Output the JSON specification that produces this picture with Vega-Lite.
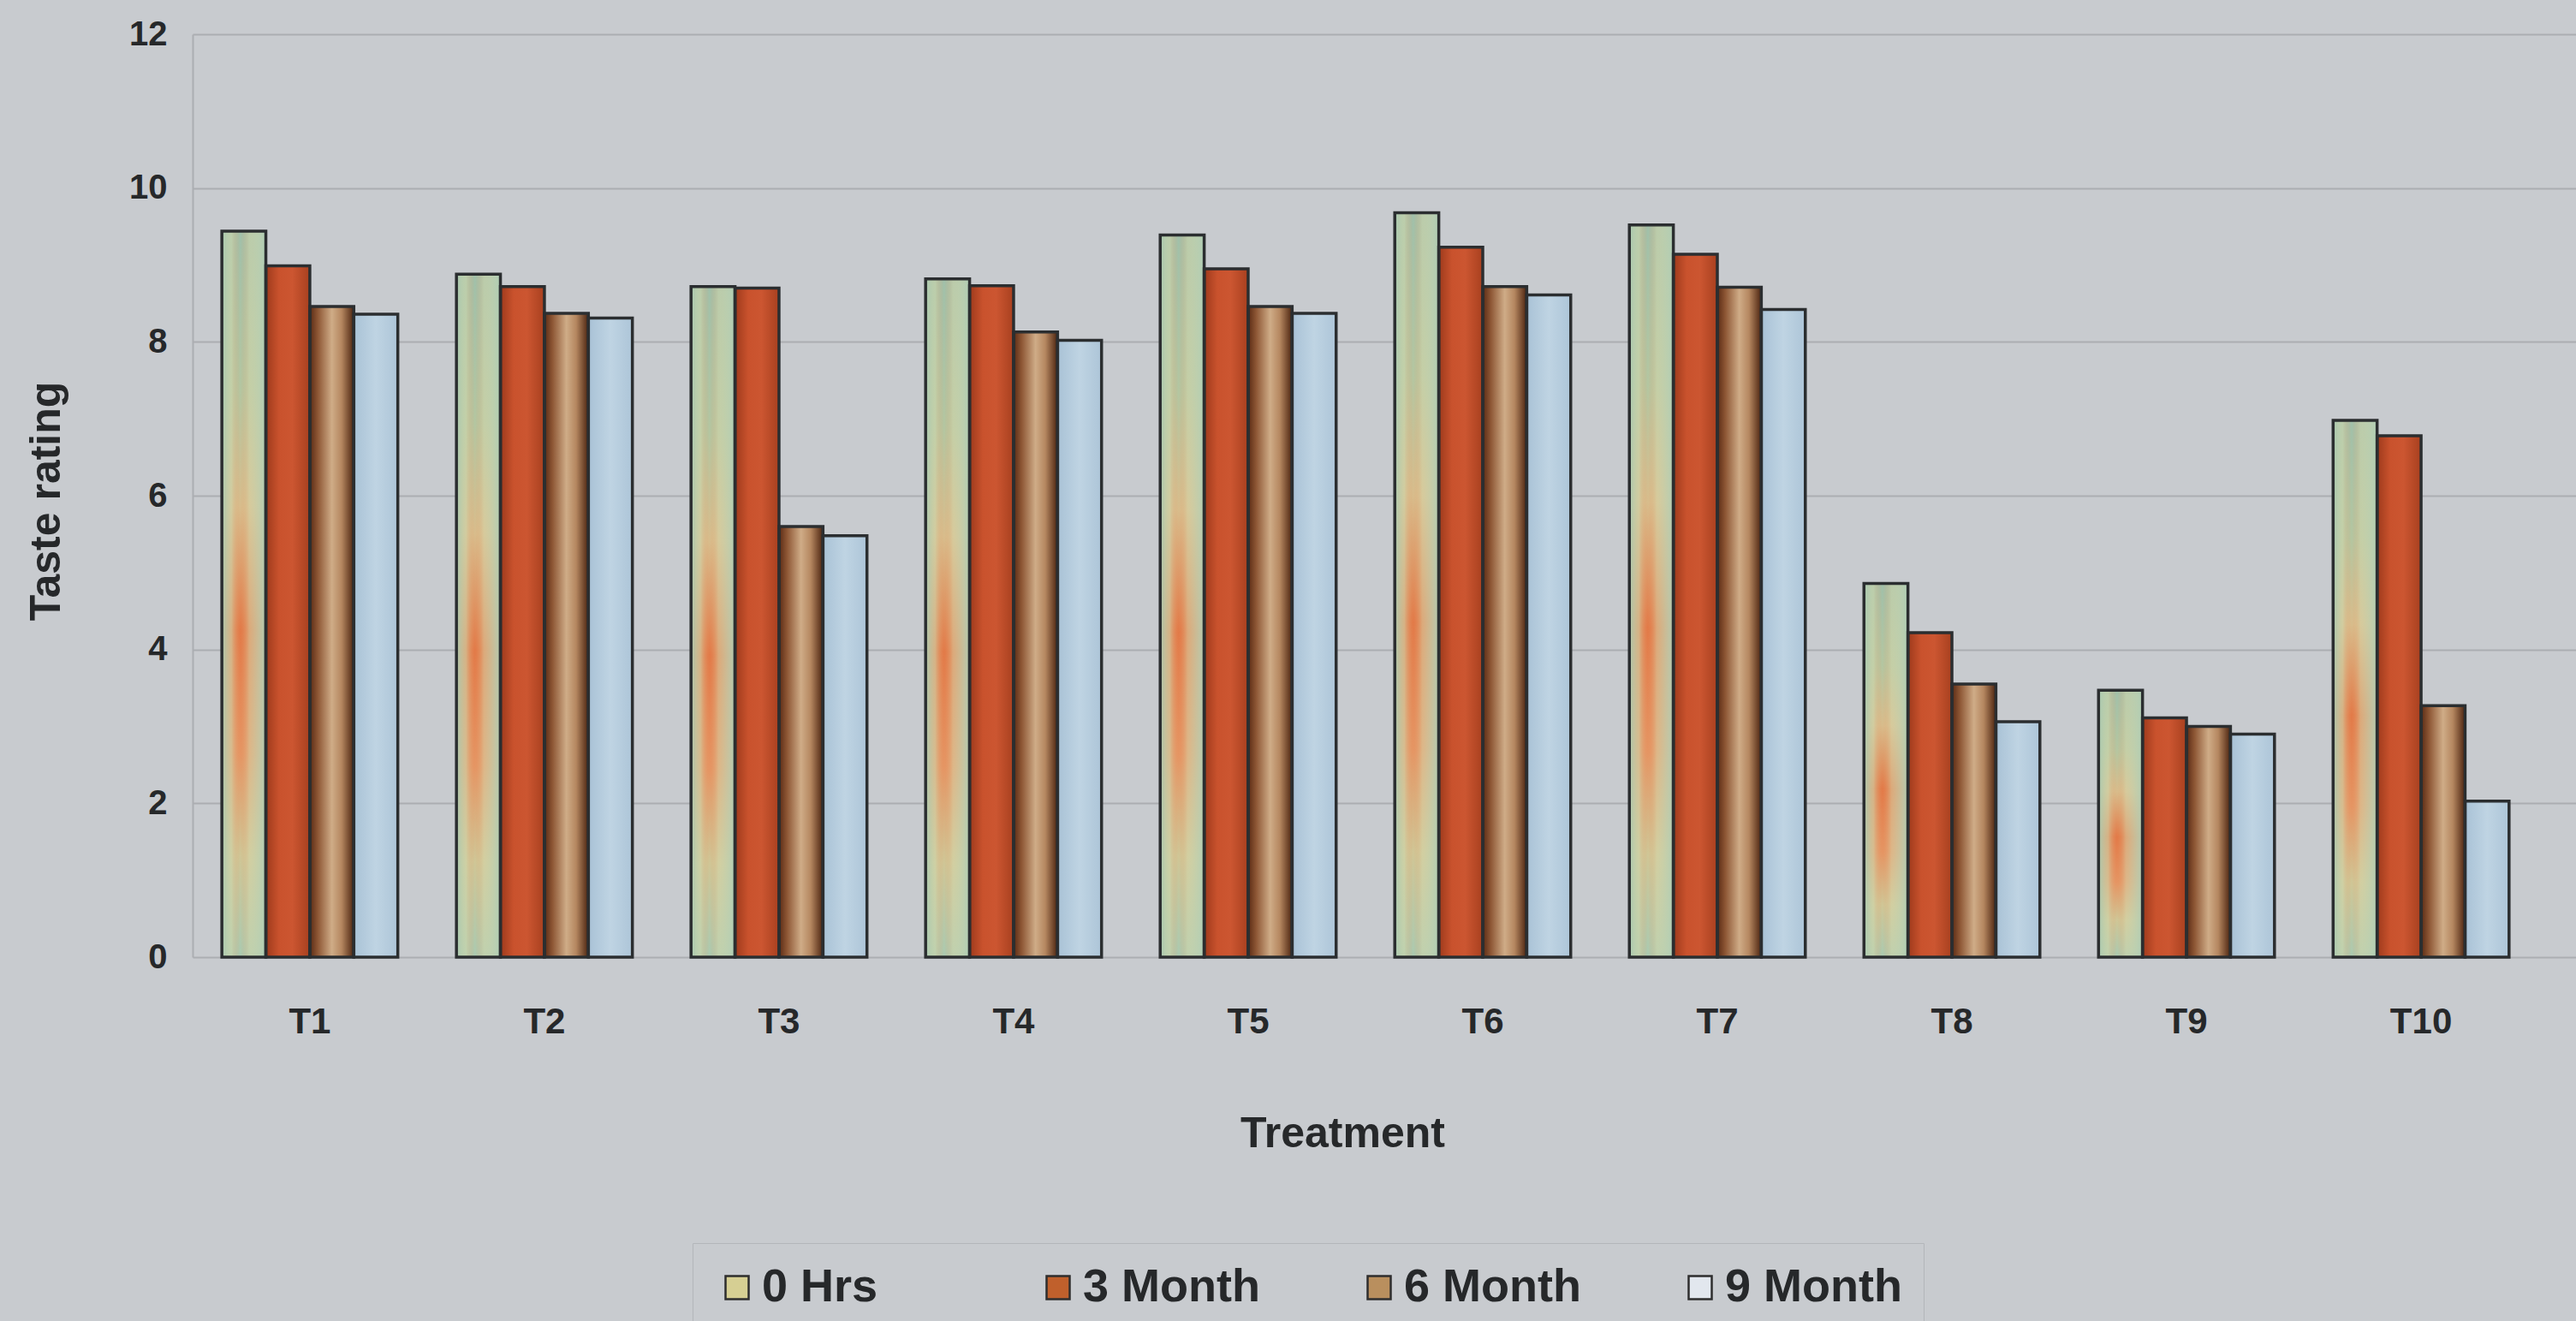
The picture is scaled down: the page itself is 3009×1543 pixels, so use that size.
{
  "$schema": "https://vega.github.io/schema/vega-lite/v6.json",
  "autosize": {"type": "none"},
  "padding": {"left": 225, "top": 40, "right": 0, "bottom": 425},
  "width": 2784,
  "height": 1078,
  "background": "#c8cbcf",
  "config": {
    "view": {"stroke": null},
    "font": "Liberation Sans",
    "axis": {"labelFont": "Liberation Sans", "titleFont": "Liberation Sans", "labelColor": "#26282a", "titleColor": "#26282a", "labelFontWeight": "bold", "titleFontWeight": "bold"},
    "legend": {"labelFont": "Liberation Sans", "labelColor": "#26282a", "labelFontWeight": "bold"}
  },
  "data": {
    "values": [
      {"treatment": "T1", "period": "0 Hrs", "rating": 9.44},
      {"treatment": "T1", "period": "3 Month", "rating": 8.99},
      {"treatment": "T1", "period": "6 Month", "rating": 8.46},
      {"treatment": "T1", "period": "9 Month", "rating": 8.36},
      {"treatment": "T2", "period": "0 Hrs", "rating": 8.88},
      {"treatment": "T2", "period": "3 Month", "rating": 8.72},
      {"treatment": "T2", "period": "6 Month", "rating": 8.37},
      {"treatment": "T2", "period": "9 Month", "rating": 8.31},
      {"treatment": "T3", "period": "0 Hrs", "rating": 8.72},
      {"treatment": "T3", "period": "3 Month", "rating": 8.7},
      {"treatment": "T3", "period": "6 Month", "rating": 5.6},
      {"treatment": "T3", "period": "9 Month", "rating": 5.48},
      {"treatment": "T4", "period": "0 Hrs", "rating": 8.82},
      {"treatment": "T4", "period": "3 Month", "rating": 8.73},
      {"treatment": "T4", "period": "6 Month", "rating": 8.13},
      {"treatment": "T4", "period": "9 Month", "rating": 8.02},
      {"treatment": "T5", "period": "0 Hrs", "rating": 9.39},
      {"treatment": "T5", "period": "3 Month", "rating": 8.95},
      {"treatment": "T5", "period": "6 Month", "rating": 8.46},
      {"treatment": "T5", "period": "9 Month", "rating": 8.37},
      {"treatment": "T6", "period": "0 Hrs", "rating": 9.68},
      {"treatment": "T6", "period": "3 Month", "rating": 9.23},
      {"treatment": "T6", "period": "6 Month", "rating": 8.72},
      {"treatment": "T6", "period": "9 Month", "rating": 8.61},
      {"treatment": "T7", "period": "0 Hrs", "rating": 9.52},
      {"treatment": "T7", "period": "3 Month", "rating": 9.14},
      {"treatment": "T7", "period": "6 Month", "rating": 8.71},
      {"treatment": "T7", "period": "9 Month", "rating": 8.42},
      {"treatment": "T8", "period": "0 Hrs", "rating": 4.86},
      {"treatment": "T8", "period": "3 Month", "rating": 4.22},
      {"treatment": "T8", "period": "6 Month", "rating": 3.55},
      {"treatment": "T8", "period": "9 Month", "rating": 3.06},
      {"treatment": "T9", "period": "0 Hrs", "rating": 3.47},
      {"treatment": "T9", "period": "3 Month", "rating": 3.11},
      {"treatment": "T9", "period": "6 Month", "rating": 3.0},
      {"treatment": "T9", "period": "9 Month", "rating": 2.9},
      {"treatment": "T10", "period": "0 Hrs", "rating": 6.98},
      {"treatment": "T10", "period": "3 Month", "rating": 6.78},
      {"treatment": "T10", "period": "6 Month", "rating": 3.27},
      {"treatment": "T10", "period": "9 Month", "rating": 2.03}
    ]
  },
  "encoding": {
    "x": {
      "field": "treatment",
      "type": "nominal",
      "sort": ["T1", "T2", "T3", "T4", "T5", "T6", "T7", "T8", "T9", "T10"],
      "scale": {"paddingInner": 0.25, "paddingOuter": 0.205, "align": 0.304},
      "axis": {
        "title": "Treatment",
        "labelAngle": 0,
        "labelFontSize": 42,
        "labelPadding": 55,
        "ticks": false,
        "domain": false,
        "grid": false,
        "titleFontSize": 50,
        "titleX": 1343,
        "titleY": 206,
        "titleBaseline": "middle",
        "titleAlign": "center"
      }
    },
    "xOffset": {
      "field": "period",
      "type": "nominal",
      "sort": ["0 Hrs", "3 Month", "6 Month", "9 Month"],
      "scale": {"paddingInner": 0, "paddingOuter": 0}
    },
    "y": {
      "field": "rating",
      "type": "quantitative",
      "scale": {"domain": [0, 12], "nice": false},
      "axis": {
        "title": "Taste rating",
        "values": [0, 2, 4, 6, 8, 10, 12],
        "labelFontSize": 40,
        "labelPadding": 30,
        "ticks": false,
        "domain": true,
        "domainColor": "#abaeb2",
        "domainWidth": 2,
        "gridColor": "#abaeb2",
        "gridWidth": 2,
        "titleFontSize": 50,
        "titleAngle": 270,
        "titleX": -171,
        "titleY": 545,
        "titleAlign": "center",
        "titleBaseline": "middle"
      }
    }
  },
  "layer": [
    {
      "mark": {"type": "bar", "strokeWidth": 0},
      "encoding": {
        "color": {
          "field": "period",
          "type": "nominal",
          "scale": {
            "domain": ["0 Hrs", "3 Month", "6 Month", "9 Month"],
            "range": ["#d6cf93", "#c0602c", "#b98f5e", "#e2e7ee"]
          },
          "legend": {
            "title": null,
            "orient": "none",
            "direction": "horizontal",
            "columns": 4,
            "gridAlign": "all",
            "columnPadding": 112,
            "legendX": 584,
            "legendY": 1412,
            "padding": 25,
            "strokeColor": "#b3b6ba",
            "labelFontSize": 54,
            "labelLimit": 600,
            "labelOffset": 2,
            "symbolType": "square",
            "symbolSize": 729,
            "symbolStrokeColor": "#2e2e2e",
            "symbolStrokeWidth": 2.5,
            "encode": {
              "symbols": {"update": {"stroke": {"value": "#2e2e2e"}, "strokeWidth": {"value": 2.5}}}
            }
          }
        }
      }
    },
    {
      "transform": [{"filter": "datum.period === '0 Hrs'"}],
      "mark": {
        "type": "bar",
        "strokeWidth": 0,
        "fill": {
          "gradient": "linear", "x1": 0, "y1": 0, "x2": 0, "y2": 1,
          "stops": [
            {"offset": 0, "color": "#9fc1ab"},
            {"offset": 0.22, "color": "#b3c7a2"},
            {"offset": 0.38, "color": "#d8bd8c"},
            {"offset": 0.55, "color": "#e27a48"},
            {"offset": 0.72, "color": "#e59563"},
            {"offset": 0.86, "color": "#cfc797"},
            {"offset": 1, "color": "#a9cbb2"}
          ]
        }
      }
    },
    {
      "transform": [{"filter": "datum.period === '0 Hrs'"}],
      "mark": {
        "type": "bar",
        "strokeWidth": 0,
        "fill": {
          "gradient": "linear", "x1": 0, "y1": 0, "x2": 1, "y2": 0,
          "stops": [
            {"offset": 0, "color": "rgba(168,200,176,0.95)"},
            {"offset": 0.22, "color": "rgba(206,214,172,0.6)"},
            {"offset": 0.42, "color": "rgba(230,150,100,0)"},
            {"offset": 0.62, "color": "rgba(214,214,170,0.5)"},
            {"offset": 1, "color": "rgba(176,206,182,0.95)"}
          ]
        }
      }
    },
    {
      "transform": [{"filter": "datum.period === '3 Month'"}],
      "mark": {
        "type": "bar",
        "strokeWidth": 0,
        "fill": {
          "gradient": "linear", "x1": 0, "y1": 0, "x2": 1, "y2": 0,
          "stops": [
            {"offset": 0, "color": "#9e3a1c"},
            {"offset": 0.3, "color": "#c9522d"},
            {"offset": 0.6, "color": "#cc5631"},
            {"offset": 1, "color": "#a8401f"}
          ]
        }
      }
    },
    {
      "transform": [{"filter": "datum.period === '6 Month'"}],
      "mark": {
        "type": "bar",
        "strokeWidth": 0,
        "fill": {
          "gradient": "linear", "x1": 0, "y1": 0, "x2": 1, "y2": 0,
          "stops": [
            {"offset": 0, "color": "#5a2b15"},
            {"offset": 0.18, "color": "#8d5634"},
            {"offset": 0.5, "color": "#cfac87"},
            {"offset": 0.72, "color": "#b58760"},
            {"offset": 1, "color": "#4c2410"}
          ]
        }
      }
    },
    {
      "transform": [{"filter": "datum.period === '9 Month'"}],
      "mark": {
        "type": "bar",
        "strokeWidth": 0,
        "fill": {
          "gradient": "linear", "x1": 0, "y1": 0, "x2": 1, "y2": 0,
          "stops": [
            {"offset": 0, "color": "#a9c2d6"},
            {"offset": 0.5, "color": "#bfd4e3"},
            {"offset": 1, "color": "#adc5d8"}
          ]
        }
      }
    },
    {
      "mark": {"type": "bar", "fill": "transparent", "stroke": "#2b2e30", "strokeWidth": 3.5}
    }
  ]
}
